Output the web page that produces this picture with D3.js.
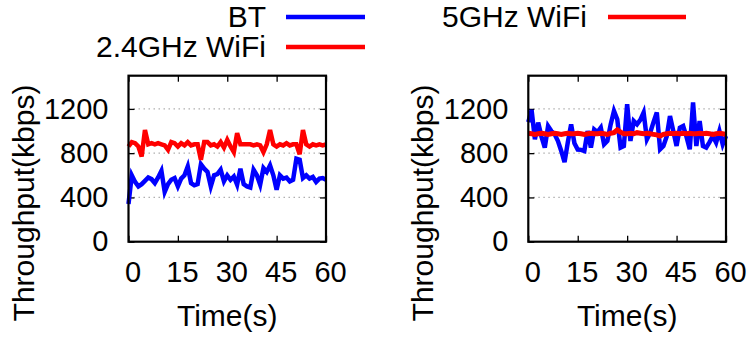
<!DOCTYPE html>
<html><head><meta charset="utf-8">
<script src="https://cdn.jsdelivr.net/npm/d3@7"></script>
<style>html,body{margin:0;padding:0;background:#fff}svg{display:block}</style>
</head><body><svg id="c" width="750" height="339"></svg>
<script>
const time = d3.range(0, 61);
const btLeft = [340,600,540,500,520,550,580,565,530,580,640,450,520,560,575,500,570,600,680,530,510,520,700,660,630,500,600,610,650,545,600,560,590,515,660,520,500,490,650,600,515,665,630,690,600,470,600,570,580,545,560,750,740,575,600,570,585,540,570,575,560];
const wifi24 = [860,900,890,860,770,1010,880,890,880,890,880,870,830,900,890,860,890,870,900,870,880,880,740,900,900,870,880,860,900,850,920,860,810,980,880,880,880,880,870,880,870,810,880,1010,880,860,880,870,890,870,880,880,790,1010,880,860,880,870,880,870,880];
const btRight = [1080,1190,925,1076,950,850,1045,1000,970,910,820,718,900,1060,890,833,830,820,1000,850,1015,990,1030,880,910,1060,1182,1106,850,865,1243,910,1090,1060,1100,1167,925,985,1080,1167,835,865,950,1136,1000,865,1030,1045,950,835,1258,865,1090,865,850,900,955,895,1000,880,955];
const wifi5 = [980,975,970,975,980,975,970,975,980,975,970,975,980,975,975,980,975,970,975,980,975,975,980,975,970,980,985,1010,990,975,975,980,975,985,980,975,980,975,970,965,955,970,975,980,975,980,975,980,975,980,975,975,980,975,980,975,970,975,980,975,970];
const xTicks = [0, 15, 30, 45, 60];
const yTicks = [0, 400, 800, 1200];
const gridVals = [400, 800, 1200];
const xLabel = "Time(s)";
const yLabel = "Throughput(kbps)";

const svg = d3.select("#c");
const FONT = "'Liberation Sans', Arial, Helvetica, sans-serif";
const plotTop = 75.7, plotBottom = 241.7;

function panel(x0, x1, series) {
  const x = d3.scaleLinear().domain([0, 60]).range([x0, x1]);
  const y = d3.scaleLinear().domain([0, 1500]).range([plotBottom, plotTop]);
  const g = svg.append("g");
  g.selectAll("line.grid").data(gridVals).join("line")
    .attr("x1", x0).attr("x2", x1).attr("y1", d => y(d)).attr("y2", d => y(d))
    .attr("stroke", "#b0b0b0").attr("stroke-width", 1.2).attr("stroke-dasharray", "1.5,3.5");
  const ax = [
    g.append("g").attr("transform", `translate(${x0},0)`).call(d3.axisLeft(y).tickValues(yTicks).tickFormat(d3.format("d")).tickSize(-6).tickPadding(20)),
    g.append("g").attr("transform", `translate(${x1},0)`).call(d3.axisRight(y).tickValues(yTicks).tickSize(-6).tickFormat("")),
    g.append("g").attr("transform", `translate(0,${plotBottom})`).call(d3.axisBottom(x).tickValues(xTicks).tickFormat(d3.format("d")).tickSize(-6).tickPadding(20)),
    g.append("g").attr("transform", `translate(0,${plotTop})`).call(d3.axisTop(x).tickValues(xTicks).tickSize(-6).tickFormat(""))
  ];
  ax.forEach(a => {
    a.select(".domain").remove();
    a.selectAll("line").attr("stroke", "#000").attr("stroke-width", 1.3);
    a.selectAll("text").attr("font-family", FONT).attr("font-size", 29).attr("fill", "#000");
  });
  ax[2].selectAll("text").attr("dx", 4);
  const line = d3.line().x((d, i) => x(time[i])).y(d => y(d));
  series.forEach(s => {
    g.append("path").datum(s.values).attr("d", line)
      .attr("fill", "none").attr("stroke", s.color).attr("stroke-width", s.w)
      .attr("stroke-linejoin", "miter").attr("stroke-miterlimit", 4);
  });
  g.append("rect").attr("x", x0).attr("y", plotTop).attr("width", x1 - x0).attr("height", plotBottom - plotTop)
    .attr("fill", "none").attr("stroke", "#000").attr("stroke-width", 2.2);
  g.append("text").attr("x", (x0 + x1) / 2).attr("y", 326).attr("text-anchor", "middle")
    .attr("font-family", FONT).attr("font-size", 30).text(xLabel);
  g.append("text").attr("transform", `translate(${x0 - 95},203) rotate(-90)`).attr("text-anchor", "middle")
    .attr("font-family", FONT).attr("font-size", 30).text(yLabel);
}

panel(128.5, 326, [
  {values: btLeft, color: "#0000ff", w: 4.5},
  {values: wifi24, color: "#ff0000", w: 4.5}
]);
panel(528.3, 726, [
  {values: btRight, color: "#0000ff", w: 4.5},
  {values: wifi5, color: "#ff0000", w: 5}
]);

const legend = [
  {label: "BT", color: "#0000ff", tx: 266, ty: 27, lx1: 286, lx2: 365, ly: 17},
  {label: "2.4GHz WiFi", color: "#ff0000", tx: 266, ty: 57, lx1: 286, lx2: 365, ly: 47},
  {label: "5GHz WiFi", color: "#ff0000", tx: 587, ty: 27, lx1: 608, lx2: 686, ly: 17}
];
legend.forEach(l => {
  svg.append("text").attr("x", l.tx).attr("y", l.ty).attr("text-anchor", "end")
    .attr("font-family", FONT).attr("font-size", 30).text(l.label);
  svg.append("line").attr("x1", l.lx1).attr("x2", l.lx2).attr("y1", l.ly).attr("y2", l.ly)
    .attr("stroke", l.color).attr("stroke-width", 4.5);
});
</script></body></html>
